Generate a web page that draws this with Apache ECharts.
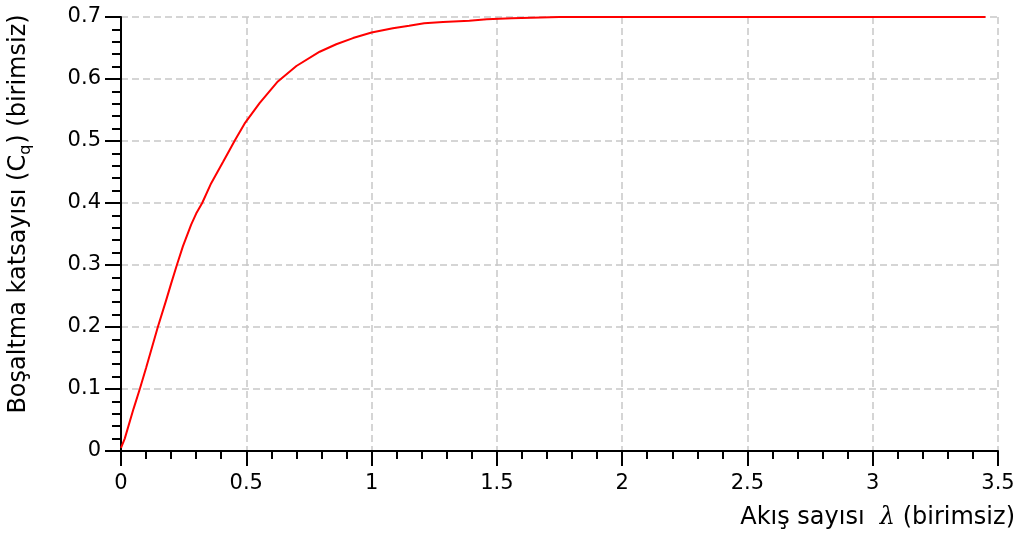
<!DOCTYPE html>
<html>
<head>
<meta charset="utf-8">
<script src="https://cdn.jsdelivr.net/npm/echarts@6/dist/echarts.min.js"></script>
<style>
html,body{margin:0;padding:0;background:#fff;}
#chart{width:1022px;height:540px;}
</style>
</head>
<body>
<div id="chart"></div>
<script>
// Data
var lambdaValues = [0, 0.015, 0.05, 0.075, 0.1, 0.147, 0.18, 0.2, 0.223, 0.247, 0.28, 0.3, 0.324, 0.36, 0.407, 0.434, 0.453, 0.493, 0.553, 0.626, 0.7, 0.793, 0.859, 0.926, 1.0, 1.085, 1.15, 1.21, 1.285, 1.39, 1.46, 1.56, 1.75, 2.0, 2.5, 3.0, 3.45];
var cqValues     = [0.005, 0.02, 0.068, 0.1, 0.134, 0.2, 0.243, 0.27, 0.3, 0.33, 0.365, 0.383, 0.4, 0.432, 0.466, 0.486, 0.5, 0.528, 0.561, 0.596, 0.621, 0.644, 0.656, 0.666, 0.675, 0.682, 0.686, 0.69, 0.692, 0.694, 0.6965, 0.698, 0.7, 0.7, 0.7, 0.7, 0.7];
var xTickLabels = ['0', '0.5', '1', '1.5', '2', '2.5', '3', '3.5'];
var yTickLabels = ['0', '0.1', '0.2', '0.3', '0.4', '0.5', '0.6', '0.7'];
var xAxisTitle = ['Akış sayısı  ', 'λ', ' (birimsiz)'];
var yAxisTitle = ['Boşaltma katsayısı (C', 'q', ') (birimsiz)'];

var seriesData = lambdaValues.map(function (l, i) { return [l, cqValues[i]]; });

var FONT = 'DejaVu Sans';
var chart = echarts.init(document.getElementById('chart'), null, {renderer: 'canvas'});
var gridStyle = {show: true, lineStyle: {color: '#c8c8c8', width: 1.5, type: [7, 4]}};

chart.setOption({
  backgroundColor: '#ffffff',
  animation: false,
  grid: {left: 121, right: 24, top: 17, bottom: 89, containLabel: false},
  xAxis: {
    type: 'value', min: 0, max: 3.5, interval: 0.5,
    axisLine: {show: true, onZero: false, lineStyle: {color: '#000', width: 2}},
    axisTick: {show: true, inside: false, length: 15, lineStyle: {color: '#000', width: 2}},
    minorTick: {show: true, splitNumber: 5, length: 8, lineStyle: {color: '#000', width: 2}},
    axisLabel: {
      color: '#000', fontFamily: FONT, fontSize: 21, margin: 22,
      showMinLabel: true, showMaxLabel: true,
      formatter: function (v) { return xTickLabels[Math.round(v / 0.5)]; }
    },
    splitLine: gridStyle
  },
  yAxis: {
    type: 'value', min: 0, max: 0.7, interval: 0.1,
    axisLine: {show: true, onZero: false, lineStyle: {color: '#000', width: 2}},
    axisTick: {show: true, inside: false, length: 16, lineStyle: {color: '#000', width: 2}},
    minorTick: {show: true, splitNumber: 5, length: 9, lineStyle: {color: '#000', width: 2}},
    axisLabel: {
      color: '#000', fontFamily: FONT, fontSize: 21, margin: 20,
      showMinLabel: true, showMaxLabel: true,
      formatter: function (v) { return yTickLabels[Math.round(v / 0.1)]; }
    },
    splitLine: gridStyle
  },
  series: [{
    type: 'line',
    data: seriesData,
    showSymbol: false,
    smooth: false,
    lineStyle: {color: '#ff0000', width: 2},
    z: 5
  }],
  graphic: [
    {
      type: 'text', x: 1015, y: 518,
      style: {
        text: '{t|' + xAxisTitle[0] + '}{l|' + xAxisTitle[1] + '}{t|' + xAxisTitle[2] + '}',
        align: 'right', verticalAlign: 'middle',
        rich: {
          t: {fontFamily: FONT, fontSize: 24, fill: '#000', lineHeight: 30},
          l: {fontFamily: 'DejaVu Serif', fontStyle: 'italic', fontSize: 24, fill: '#000', lineHeight: 30}
        }
      }
    },
    {
      type: 'text', x: 19, y: 214, rotation: Math.PI / 2,
      style: {
        text: '{t|' + yAxisTitle[0] + '}{s|' + yAxisTitle[1] + '}{t|' + yAxisTitle[2] + '}',
        align: 'center', verticalAlign: 'middle',
        rich: {
          t: {fontFamily: FONT, fontSize: 24, fill: '#000', lineHeight: 30},
          s: {fontFamily: FONT, fontSize: 16, fill: '#000', lineHeight: 16, verticalAlign: 'bottom', padding: [0, 1, 0, 0]}
        }
      }
    }
  ]
});
</script>
</body>
</html>
